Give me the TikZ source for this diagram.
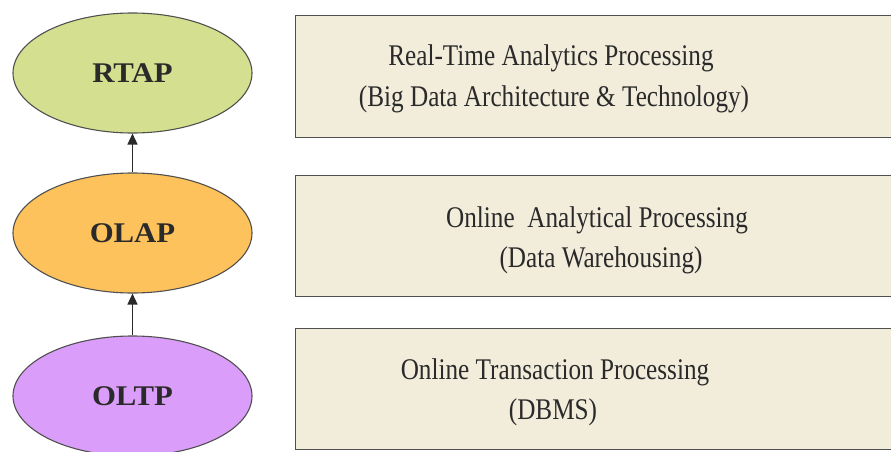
\documentclass[tikz,border=0pt]{standalone}
\usepackage{fontspec}
\setmainfont{Liberation Serif}
\newfontfamily\boxfont[FakeStretch=0.84]{Liberation Serif}
\newfontfamily\labelfont[FakeStretch=1.08]{Liberation Serif}
\usetikzlibrary{shapes.geometric,arrows.meta}

\definecolor{rtapfill}{HTML}{D4E08F}
\definecolor{olapfill}{HTML}{FDC25B}
\definecolor{oltpfill}{HTML}{DA9DF9}
\definecolor{boxfill}{HTML}{F2ECDB}
\definecolor{edgegray}{HTML}{505050}
\definecolor{inkgray}{HTML}{2A2A2A}

\tikzset{
  level/.style={ellipse, draw=edgegray, line width=1.1pt, inner sep=0pt,
    minimum width=239pt, minimum height=120pt, text=inkgray,
    font=\labelfont\bfseries\fontsize{28.5}{30}\selectfont},
  infobox/.style={rectangle, draw=edgegray, fill=boxfill, line width=1.4pt,
    anchor=north west, minimum width=640pt, inner sep=0pt},
  infotext/.style={anchor=base, inner sep=0pt, text=inkgray,
    font=\boxfont\fontsize{30}{40}\selectfont},
  uparrow/.style={draw=inkgray, line width=1.3pt,
    -{Triangle[width=10pt,length=11pt]}}
}

\begin{document}
\begin{tikzpicture}[x=1pt,y=-1pt]
  \useasboundingbox (0,0) rectangle (891,452);
  \clip (0,0) rectangle (891,452);

  % three processing levels
  \node[level, fill=rtapfill] (rtap) at (132.5,73) {RTAP};
  \node[level, fill=olapfill] (olap) at (132.5,233) {OLAP};
  \node[level, fill=oltpfill] (oltp) at (132.5,396) {OLTP};

  \draw[uparrow] (oltp.north) -- (olap.south);
  \draw[uparrow] (olap.north) -- (rtap.south);

  % description panels
  \node[infobox, minimum height=122pt] (rtapbox) at (295,15) {};
  \node[infobox, minimum height=121pt] (olapbox) at (295,175) {};
  \node[infobox, minimum height=121pt] (oltpbox) at (295,328) {};

  \node[infotext] (rtapa) at (551,66) {Real-Time Analytics Processing};
  \node[infotext] (rtapb) at (554,106) {(Big Data Architecture \& Technology)};

  \node[infotext] (olapa) at (597,227) {Online\ \ Analytical Processing};
  \node[infotext] (olapb) at (601,267) {(Data Warehousing)};

  \node[infotext] (oltpa) at (555,379) {Online Transaction Processing};
  \node[infotext] (oltpb) at (553,419) {(DBMS)};
\end{tikzpicture}
\end{document}
